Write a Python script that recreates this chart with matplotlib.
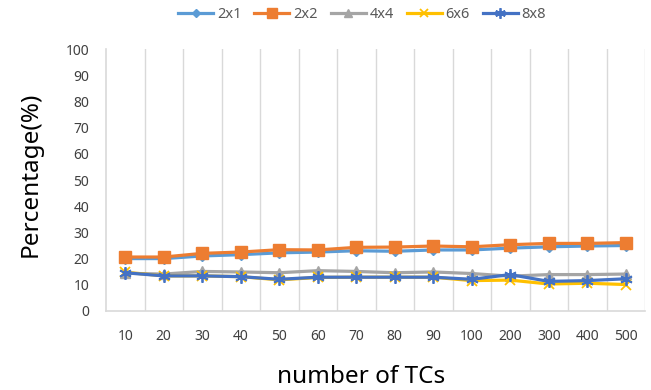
import matplotlib
matplotlib.use("Agg")
import matplotlib.pyplot as plt
import numpy as np

categories = ["10", "20", "30", "40", "50", "60", "70", "80", "90", "100", "200", "300", "400", "500"]
s_2x1 = [20.0, 20.0, 21.0, 21.5, 22.2, 22.5, 23.0, 22.8, 23.3, 23.3, 24.0, 24.5, 24.8, 25.0]
s_2x2 = [20.6, 20.6, 22.0, 22.5, 23.4, 23.3, 24.3, 24.4, 24.8, 24.5, 25.3, 25.8, 25.8, 26.1]
s_4x4 = [14.4, 14.1, 15.1, 14.9, 14.6, 15.4, 15.1, 14.6, 14.9, 14.3, 13.3, 13.9, 13.9, 14.1]
s_6x6 = [14.8, 13.4, 13.4, 13.1, 11.9, 12.8, 12.9, 12.9, 12.9, 11.6, 11.8, 10.3, 10.6, 10.1]
s_8x8 = [14.6, 13.4, 13.4, 13.1, 12.1, 12.9, 12.9, 12.9, 12.9, 12.1, 13.9, 11.3, 11.6, 12.3]

series = [
    ("2x1", s_2x1, "#5B9BD5", "D", 5),
    ("2x2", s_2x2, "#ED7D31", "s", 8),
    ("4x4", s_4x4, "#A5A5A5", "^", 7),
    ("6x6", s_6x6, "#FFC000", "x", 7),
    ("8x8", s_8x8, "#4472C4", (6, 2, 0), 9),
]

plt.rcParams['font.family'] = ['Noto Sans', 'DejaVu Sans']
fig = plt.figure(figsize=(6.51, 3.90), dpi=100)
ax = fig.add_axes([106/651, 1-311/390, (645-106)/651, (311-49)/390])

x = np.arange(len(categories))
for name, vals, col, mk, ms in series:
    kw = dict(markeredgecolor=col, markerfacecolor=col)
    if mk == "x" or isinstance(mk, tuple):
        kw["markeredgewidth"] = 1.3
    ax.plot(x, vals, color=col, lw=2.3, marker=mk, markersize=ms, label=name, **kw)

ax.set_xlim(-0.5, len(categories) - 0.5)
ax.set_ylim(0, 100)
ax.set_yticks(np.arange(0, 101, 10))
ax.set_xticks(x)
ax.set_xticklabels(categories)
ax.set_xticks(np.arange(0.5, len(categories) - 0.4, 1), minor=True)
ax.grid(True, axis="x", which="minor", color="#D9D9D9", lw=1)
ax.grid(False, axis="x", which="major")
ax.tick_params(axis="both", which="both", length=0, labelsize=10, colors="#404040")
ax.tick_params(axis="x", pad=13)
ax.tick_params(axis="y", pad=12)
for s in ["top", "right"]:
    ax.spines[s].set_visible(False)
for s in ["left", "bottom"]:
    ax.spines[s].set_color("#D9D9D9")
    ax.spines[s].set_linewidth(1.2)

ax.set_ylabel("Percentage(%)", fontsize=17.5, color="black")
ax.yaxis.set_label_coords(-0.117, 0.523)
ax.set_xlabel("number of TCs", fontsize=17.5, color="black")
ax.xaxis.set_label_coords(0.473, -0.205)

handles, labels = ax.get_legend_handles_labels()
leg = fig.legend(handles, labels, loc="center", bbox_to_anchor=(362/651, 1-15/390), ncol=5,
                 frameon=False, fontsize=10.5, handlelength=2.4, columnspacing=0.9,
                 handletextpad=0.25, borderaxespad=0, markerscale=0.85)
for t in leg.get_texts():
    t.set_color("#595959")

fig.savefig("out.png", dpi=100)
